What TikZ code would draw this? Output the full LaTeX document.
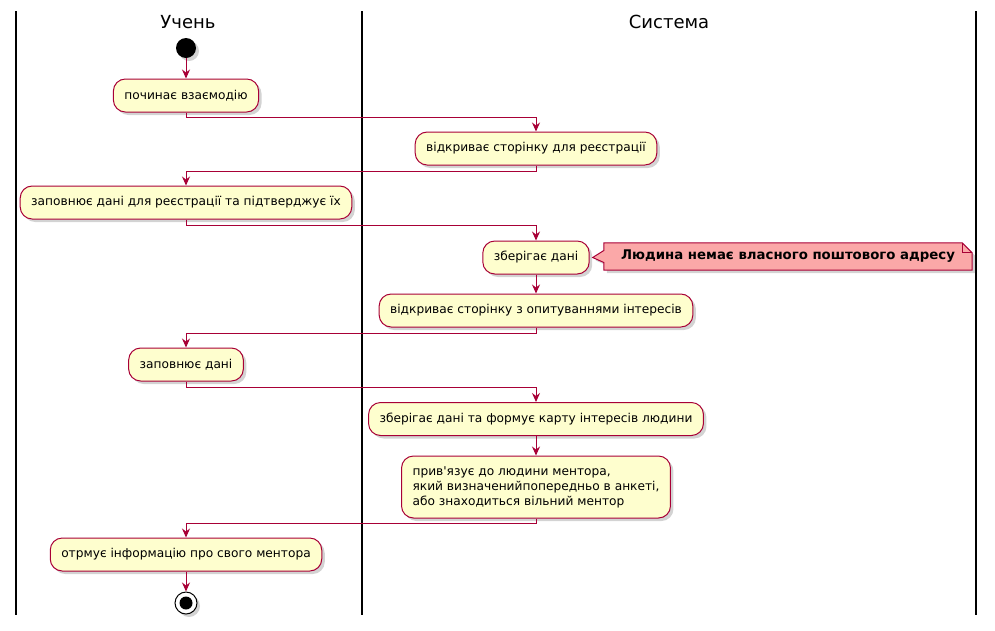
\documentclass[tikz,border=0pt]{standalone}
\usepackage{fontspec}
\setmainfont{DejaVu Sans}
\usetikzlibrary{arrows.meta,shadows,calc}
\definecolor{plred}{HTML}{A80036}
\definecolor{plyellow}{HTML}{FEFECE}
\definecolor{plnote}{HTML}{FBA8A8}
\tikzset{
  act/.style={draw=plred, fill=plyellow, rounded corners=12pt, line width=1pt,
    minimum height=33pt, inner xsep=11pt, inner ysep=4pt,
    font=\fontsize{12.2}{15}\selectfont,
    drop shadow={shadow xshift=3pt, shadow yshift=-3pt, opacity=0.35}},
  flow/.style={draw=plred, line width=1pt, -{Stealth[length=9pt,width=8pt,inset=3pt]}},
  lane/.style={line width=2pt, black},
  lanetitle/.style={font=\fontsize{18}{20}\selectfont},
  notetext/.style={font=\fontsize{13.3}{15}\selectfont\bfseries},
  notebody/.style={draw=plred, fill=plnote, line width=1pt,
    drop shadow={shadow xshift=3pt, shadow yshift=-3pt, opacity=0.35}},
}
\begin{document}
\begin{tikzpicture}[x=1pt,y=-1pt]
\useasboundingbox (0,0) rectangle (995,630);
% lanes
\coordinate (l1t) at (16,11); \coordinate (l1b) at (16,615);
\coordinate (l2t) at (362,11); \coordinate (l2b) at (362,615);
\coordinate (l3t) at (976,11); \coordinate (l3b) at (976,615);
\draw[lane] (l1t) -- (l1b);
\draw[lane] (l2t) -- (l2b);
\draw[lane] (l3t) -- (l3b);
\node[lanetitle] (t1) at (188,22) {Учень};
\node[lanetitle] (t2) at (669,22) {Система};
% nodes
\node[circle, fill=black, minimum size=20pt, inner sep=0pt,
  drop shadow={shadow xshift=3pt, shadow yshift=-3pt, opacity=0.35}] (start) at (186,48) {};
\node[act] (a1) at (186,95.5) {починає взаємодію};
\node[act] (b1) at (536,148.5) {відкриває сторінку для реєстрації};
\node[act] (a2) at (186,202.5) {заповнює дані для реєстрації та підтверджує їх};
\node[act] (b2) at (536,257.5) {зберігає дані};
\node[act] (b3) at (536,310.5) {відкриває сторінку з опитуваннями інтересів};
\node[act] (a3) at (186,364.5) {заповнює дані};
\node[act] (b4) at (536,419) {зберігає дані та формує карту інтересів людини};
\node[act, align=left, minimum height=62pt] (b5) at (536,487) {прив\textquotesingle язує до людини ментора,\\який визначенийпопередньо в анкеті,\\або знаходиться вільний ментор};
\node[act] (a4) at (186,554.5) {отрмує інформацію про свого ментора};
\node[circle, draw=black, line width=1pt, fill=white, minimum size=22pt, inner sep=0pt,
  drop shadow={shadow xshift=3pt, shadow yshift=-3pt, opacity=0.35}] (stop) at (186,603) {};
\node[circle, fill=black, minimum size=13pt, inner sep=0pt] (stopin) at (stop) {};
% note
\node[minimum width=368pt, minimum height=27pt, inner sep=0pt] (n) at (788,256.5) {};
\coordinate (tip) at ($(b2.east)+(3,0)$);
\path[notebody] (n.north west) -- ($(n.north east)+(-10,0)$) -- ($(n.north east)+(0,10)$)
  -- (n.south east) -- (n.south west) -- ($(n.west)+(0,6)$) -- (tip) -- ($(n.west)+(0,-6)$) -- cycle;
\draw[plred, line width=1pt] ($(n.north east)+(-10,0)$) -- ($(n.north east)+(-10,10)$) -- ($(n.north east)+(0,10)$);
\node[notetext] (nt) at (n) {Людина немає власного поштового адресу};
% connectors
\draw[flow] (start) -- (a1);
\draw[flow] (a1.south) -- ++(0,5) -| (b1.north);
\draw[flow] (b1.south) -- ++(0,6) -| (a2.north);
\draw[flow] (a2.south) -- ++(0,6) -| (b2.north);
\draw[flow] (b2.south) -- (b3.north);
\draw[flow] (b3.south) -- ++(0,6) -| (a3.north);
\draw[flow] (a3.south) -- ++(0,6) -| (b4.north);
\draw[flow] (b4.south) -- (b5.north);
\draw[flow] (b5.south) -- ++(0,5) -| (a4.north);
\draw[flow] (a4.south) -- (stop.north);
\end{tikzpicture}
\end{document}
